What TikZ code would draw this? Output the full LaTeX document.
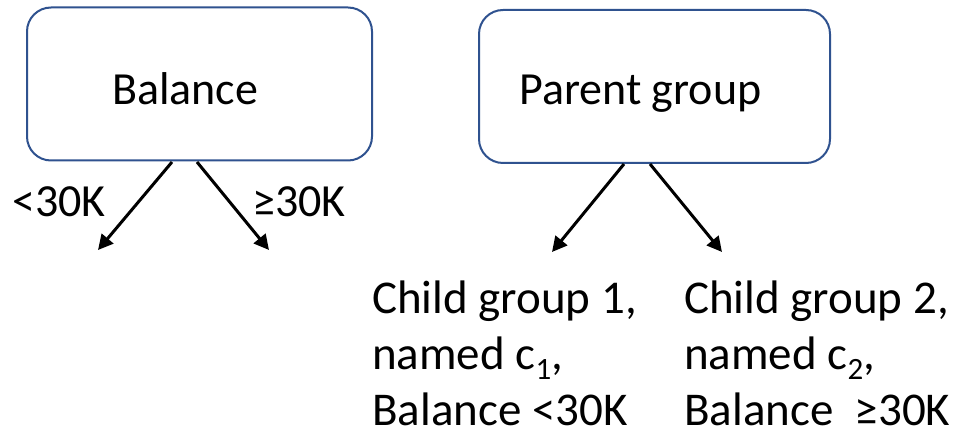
\documentclass[tikz,border=0pt]{standalone}
\usepackage{fontspec}
\setmainfont{Carlito}
\usetikzlibrary{arrows.meta}
\definecolor{boxblue}{HTML}{2F528F}
\newcommand{\lowsub}[1]{\raisebox{-10pt}{\fontsize{31}{31}\selectfont #1}}
\begin{document}
\begin{tikzpicture}[x=1pt,y=-1pt,
  groupbox/.style={draw=boxblue,line width=2pt,rounded corners=24pt,fill=white,inner sep=0pt},
  boxtext/.style={font=\fontsize{46}{55}\selectfont,inner sep=0pt,anchor=base west},
  branch/.style={line width=3pt,-{Triangle[length=15pt,width=15pt]}},
  plain/.style={font=\fontsize{46}{55}\selectfont,inner sep=0pt,anchor=base west},
  childtext/.style={font=\fontsize{47}{56}\selectfont,inner sep=0pt,anchor=base west,align=left}]
\useasboundingbox (0,0) rectangle (963,435);

% split on balance
\node[groupbox,minimum width=345pt,minimum height=153pt] (bal) at (199.5,84) {};
\node[boxtext] (balt) at (112,105) {Balance};
\coordinate (b1s) at (172,162);
\coordinate (b2s) at (197,162);
\coordinate (b1e) at (98,250);
\coordinate (b2e) at (269,250);
\draw[branch] (b1s) -- (b1e);
\draw[branch] (b2s) -- (b2e);
\node[plain] (lt) at (12,217) {<30K};
\node[plain] (ge) at (252,217) {≥30K};

% parent group and its children
\node[groupbox,minimum width=351pt,minimum height=153pt] (par) at (654.5,86.5) {};
\node[boxtext] (part) at (519,105) {Parent group};
\coordinate (p1s) at (624,164);
\coordinate (p2s) at (650,164);
\coordinate (p1e) at (552,252);
\coordinate (p2e) at (722,252);
\draw[branch] (p1s) -- (p1e);
\draw[branch] (p2s) -- (p2e);
\node[childtext] (c1) at (372,425) {Child group 1,\\ named c\lowsub{1},\\ Balance <30K};
\node[childtext] (c2) at (684,425) {Child group 2,\\ named c\lowsub{2},\\ Balance\ \ ≥30K};
\end{tikzpicture}
\end{document}
